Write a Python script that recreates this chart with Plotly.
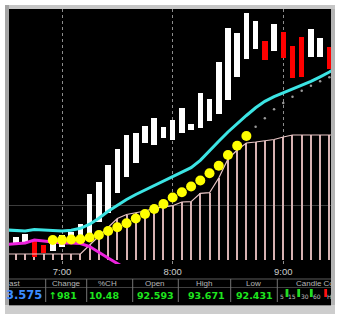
import plotly.graph_objects as go

# ---------------- data ----------------
day = "2024-01-08"
times = ["06:30", "06:35", "06:40", "06:45", "06:50", "06:55",
         "07:00", "07:05", "07:10", "07:15", "07:20", "07:25",
         "07:30", "07:35", "07:40", "07:45", "07:50", "07:55",
         "08:00", "08:05", "08:10", "08:15", "08:20", "08:25",
         "08:30", "08:35", "08:40", "08:45", "08:50", "08:55",
         "09:00", "09:05", "09:10", "09:15", "09:20", "09:25", "09:30"]

bar_open = [None, 92.15, 92.17, 92.20, 92.15, 92.09,
            92.13, 92.17, 92.22, 92.25, 92.38, 92.47,
            92.67, 92.83, 92.97, 93.17, 93.15, 93.22,
            93.20, 93.27, 93.30, 93.32, 93.39, 93.46,
            93.60, 93.83, 94.01, 94.11, 94.19, 94.09,
            94.28, 94.14, 94.23, 94.03, 94.03, 94.13, None]
bar_close = [None, 92.23, 92.26, 92.03, 92.07, 92.19,
             92.25, 92.28, 92.36, 92.66, 92.78, 92.95,
             93.11, 93.25, 93.27, 93.34, 93.42, 93.33,
             93.40, 93.52, 93.36, 93.67, 93.61, 93.98,
             94.32, 94.27, 94.47, 94.39, 94.00, 94.36,
             94.02, 93.82, 93.83, 94.31, 94.22, 93.91, None]

ma_cyan = [92.300, 92.295, 92.290, 92.305, 92.300, 92.290,
           92.290, 92.297, 92.317, 92.358, 92.418, 92.487,
           92.550, 92.605, 92.655, 92.700, 92.745, 92.785,
           92.828, 92.876, 92.923, 92.997, 93.095, 93.187,
           93.280, 93.367, 93.445, 93.522, 93.587, 93.633,
           93.670, 93.705, 93.748, 93.786, 93.832, 93.880, 93.940]

ma_magenta = [92.155, 92.160, 92.170, 92.200, 92.190, 92.175,
              92.170, 92.170, 92.165, 92.135, 92.075, 92.020,
              91.965, 91.910] + [None] * 23

stop_line = [92.060, 92.060, 92.060, 92.060, 92.060, 92.060,
             92.060, 92.060, 92.060, 92.150, 92.240, 92.330,
             92.415, 92.455, 92.473, 92.490, 92.517, 92.533,
             92.543, 92.580, 92.583, 92.667, 92.673, 92.820,
             93.010, 93.100, 93.170, 93.180, 93.195, 93.205,
             93.230, 93.250, 93.250, 93.250, 93.250, 93.250, 93.250]
stop_base = 92.00

sar_dots = [None, None, None, None, None, 92.200,
            92.200, 92.205, 92.207, 92.225, 92.250, 92.290,
            92.327, 92.367, 92.415, 92.460, 92.510, 92.560,
            92.625, 92.677, 92.735, 92.795, 92.867, 92.943,
            93.050, 93.143, 93.240] + [None] * 10

trail_dots = [None] * 27 + [93.333, 93.417, 93.507, 93.570, 93.633,
                            93.693, 93.742, 93.787, 93.827, None]

tick_times = ["07:00", "08:00", "09:00"]
tick_labels = ["7:00", "8:00", "9:00"]
grid_prices = [92.55]

panel_headers = ["ast", "Change", "%CH", "Open", "High", "Low", "Candle Co"]
panel_values = ["3.575", "\u2191981", "10.48", "92.593", "93.671", "92.431"]
tf_labels = ["5", "15", "30", "60", "H"]
tf_colors = ["#22dd22", "#22dd22", "#22dd22", "#ff1010"]

# ---------------- figure ----------------
X = [f"{day} {t}" for t in times]
FIVE_MIN = 300000

fig = go.Figure()

# pink verticals (trailing stop histogram)
vx = [x for x, v in zip(X, stop_line) if v is not None]
vv = [v - stop_base for v in stop_line if v is not None]
fig.add_trace(go.Bar(x=vx, y=vv, base=stop_base, width=FIVE_MIN * 0.11,
                     marker=dict(color="#d8b2b2", line=dict(width=0)),
                     hoverinfo="skip"))
fig.add_trace(go.Scatter(x=X, y=stop_line, mode="lines",
                         line=dict(color="#eac6c6", width=1.2), hoverinfo="skip"))

# candles (bodies)
cx, cb, cl, cc = [], [], [], []
for x, o, c in zip(X, bar_open, bar_close):
    if o is None:
        continue
    cx.append(x); cb.append(o); cl.append(c - o)
    cc.append("#ffffff" if c >= o else "#ff0000")
fig.add_trace(go.Bar(x=cx, y=cl, base=cb, width=FIVE_MIN * 0.6,
                     marker=dict(color=cc, line=dict(width=0)), hoverinfo="skip"))

fig.add_trace(go.Scatter(x=X, y=trail_dots, mode="markers",
                         marker=dict(color="#9a9a9a", size=2.5), hoverinfo="skip"))
fig.add_trace(go.Scatter(x=X, y=ma_cyan, mode="lines",
                         line=dict(color="#3ce4e4", width=3), hoverinfo="skip"))
fig.add_trace(go.Scatter(x=X, y=ma_magenta, mode="lines",
                         line=dict(color="#ee22dd", width=3), hoverinfo="skip"))
fig.add_trace(go.Scatter(x=X, y=sar_dots, mode="markers",
                         marker=dict(color="#ffff00", size=10, line=dict(width=0)),
                         hoverinfo="skip"))

# ---------------- layout geometry helpers ----------------
W, H = 340, 320
PL, PT, PR, PB = 9, 9, 331, 264
PW, PH = PR - PL, PB - PT


def fx(p):
    return (p - PL) / PW


def fy(p):
    return (PB - p) / PH


def rect(x0, y0, x1, y1, color, layer="below"):
    return dict(type="rect", xref="paper", yref="paper",
                x0=fx(x0), x1=fx(x1), y0=fy(y1), y1=fy(y0),
                fillcolor=color, line=dict(width=0), layer=layer)


def line(x0, y0, x1, y1, color, w=1, layer="below"):
    return dict(type="line", xref="paper", yref="paper",
                x0=fx(x0), x1=fx(x1), y0=fy(y0), y1=fy(y1),
                line=dict(color=color, width=w), layer=layer)


shapes = [
    rect(5, 5, 335, 314, "#b4b4b4"),
    rect(5, 5, 335, 9, "#c6c6c6"),
    rect(5, 5, 9, 314, "#a4a4a4"),
    rect(5, 305, 335, 314, "#cdcdcd"),
    line(9, 305.5, 331, 305.5, "#8a8a8a"),
    rect(9, 9, 331, 305, "#000000"),
    line(9, 279, 331, 279, "#5c5c5c"),
    line(9, 287.5, 331, 287.5, "#404040"),
]
for sx in [45.7, 86.7, 132.7, 178.3, 230.7, 277.3]:
    shapes.append(line(sx, 279, sx, 302, "#747474"))

# candle timeframe icons
tf_bar_x = [287, 298.7, 311.3, 325.7]
for bx, col in zip(tf_bar_x, tf_colors):
    shapes.append(rect(bx - 1.4, 289, bx + 1.4, 297, col, layer="above"))

annotations = []
hdr_x = [14.5, 66, 107, 155, 204, 253.5]
for t, hx in zip(panel_headers[:-1], hdr_x):
    annotations.append(dict(x=fx(hx), y=fy(283.5), xref="paper", yref="paper",
                            text=t, showarrow=False, xanchor="center", yanchor="middle",
                            font=dict(family="Liberation Sans", size=8, color="#b8b8b8")))
annotations.append(dict(x=fx(294), y=fy(283.5), xref="paper", yref="paper",
                        text=panel_headers[-1], showarrow=False, xanchor="left",
                        yanchor="middle",
                        font=dict(family="Liberation Sans", size=8, color="#b8b8b8")))

annotations.append(dict(x=fx(44), y=fy(295), xref="paper", yref="paper",
                        text="<b>" + panel_values[0] + "</b>", showarrow=False,
                        xanchor="right", yanchor="middle",
                        font=dict(family="DejaVu Sans", size=11.5, color="#3c8cff")))
val_x = [62.5, 104, 155, 206, 254]
for t, vxp in zip(panel_values[1:], val_x):
    annotations.append(dict(x=fx(vxp), y=fy(295), xref="paper", yref="paper",
                            text="<b>" + t + "</b>", showarrow=False,
                            xanchor="center", yanchor="middle",
                            font=dict(family="DejaVu Sans", size=9.5, color="#1ee61e")))

tf_lab_x = [282.3, 292.2, 304.5, 317, 329.8]
for t, lx in zip(tf_labels, tf_lab_x):
    annotations.append(dict(x=fx(lx), y=fy(296), xref="paper", yref="paper",
                            text=t, showarrow=False, xanchor="center", yanchor="middle",
                            font=dict(family="DejaVu Sans", size=6, color="#c0c0c0")))

fig.update_layout(
    width=W, height=H,
    margin=dict(l=PL, r=W - PR, t=PT, b=H - PB, pad=0),
    paper_bgcolor="#ffffff", plot_bgcolor="#000000",
    showlegend=False, barmode="overlay", bargap=0,
    shapes=shapes, annotations=annotations,
    xaxis=dict(type="date",
               range=[f"{day} 06:31:15", f"{day} 09:25:53"],
               tickvals=[f"{day} {t}" for t in tick_times], ticktext=tick_labels,
               showgrid=True, gridcolor="#8c8c8c", griddash="dot", gridwidth=1,
               ticks="", showline=False, zeroline=False,
               tickfont=dict(family="Liberation Sans", size=9.5, color="#cccccc")),
    yaxis=dict(range=[91.96, 94.51], tickvals=grid_prices, showticklabels=False,
               showgrid=True, gridcolor="#3c3c3c", gridwidth=1,
               zeroline=False, showline=False, ticks=""),
)

fig.write_html("out.html")
